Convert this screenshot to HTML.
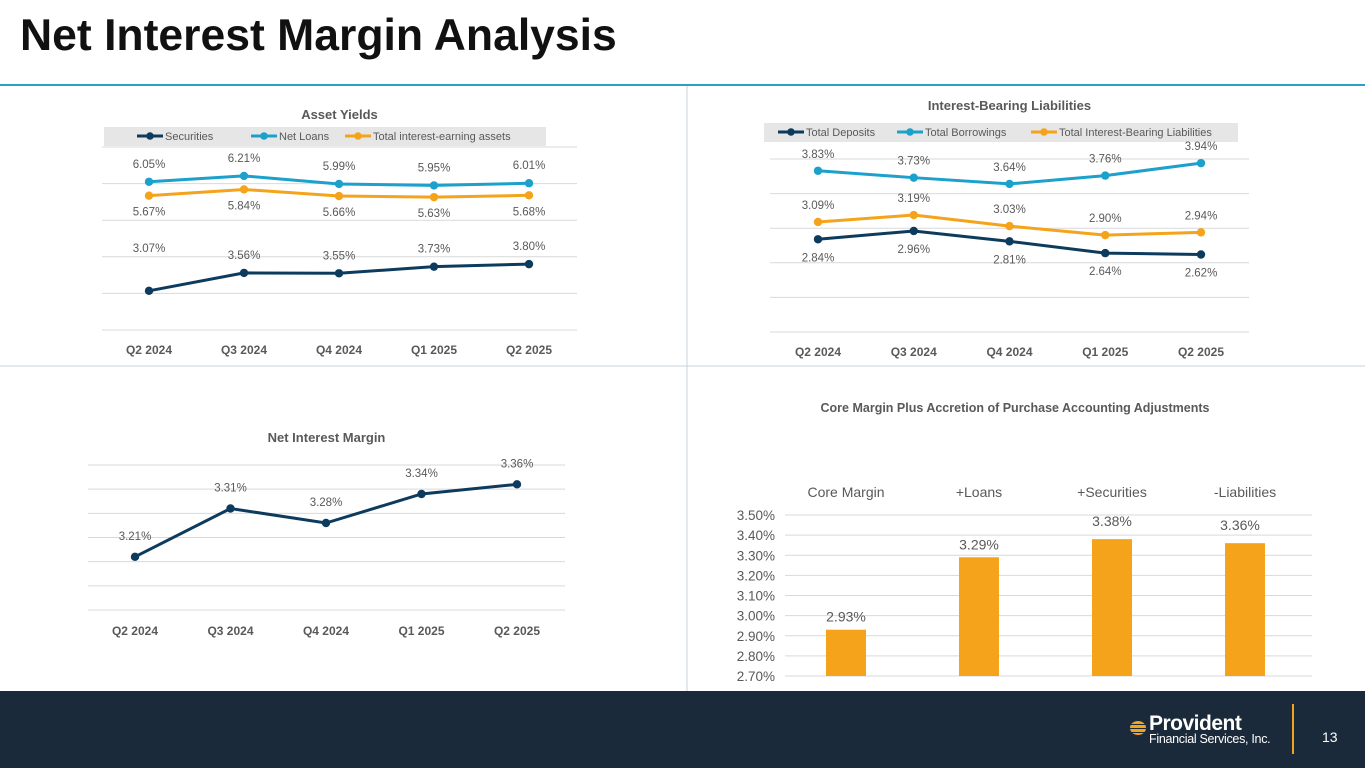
<!DOCTYPE html>
<html><head><meta charset="utf-8"><style>
body{margin:0;width:1365px;height:768px;overflow:hidden;background:#fff;font-family:"Liberation Sans",sans-serif;position:relative}
#title{position:absolute;left:20px;top:11px;font-size:44.5px;font-weight:bold;color:#111;margin:0}
#footer{position:absolute;left:0;top:691px;width:1365px;height:77px;background:#1b2a3a}
svg{position:absolute;left:0;top:0}
</style></head><body>
<h1 id="title">Net Interest Margin Analysis</h1>
<div id="footer">
 <div style="position:absolute;left:1130px;top:26px;color:#fff">
  <div style="position:absolute;left:0;top:4px;width:16px;height:14px;border-radius:50%;background:repeating-linear-gradient(#f5a31a 0 3px,#1b2a3a 3px 4px)"></div>
  <div style="position:absolute;left:19px;top:-5px;font-size:21px;font-weight:bold;letter-spacing:-0.5px">Provident</div>
  <div style="position:absolute;left:19px;top:15px;font-size:12.5px;white-space:nowrap;letter-spacing:-0.3px">Financial Services, Inc.</div>
 </div>
 <div style="position:absolute;left:1292px;top:13px;width:2px;height:50px;background:#f5a31a"></div>
 <div style="position:absolute;left:1322px;top:38px;color:#fff;font-size:14px">13</div>
</div>
<svg id="s" width="1365" height="691"></svg>
<script>
const cats=["Q2 2024","Q3 2024","Q4 2024","Q1 2025","Q2 2025"];
const secYield=[3.07,3.56,3.55,3.73,3.80];
const loanYield=[6.05,6.21,5.99,5.95,6.01];
const ieaYield=[5.67,5.84,5.66,5.63,5.68];
const depCost=[2.84,2.96,2.81,2.64,2.62];
const borCost=[3.83,3.73,3.64,3.76,3.94];
const iblCost=[3.09,3.19,3.03,2.90,2.94];
const nim=[3.21,3.31,3.28,3.34,3.36];
const barCats=["Core Margin","+Loans","+Securities","-Liabilities"];
const barVals=[2.93,3.29,3.38,3.36];
const barTicks=[2.70,2.80,2.90,3.00,3.10,3.20,3.30,3.40,3.50];
const NAVY="#0d3b5e",LB="#1ba1cb",OR="#f5a31a",GRID="#d9d9d9",TXT="#595959";
const S=document.getElementById('s'),NS="http://www.w3.org/2000/svg";
function el(t,a,txt){const e=document.createElementNS(NS,t);for(const k in a)e.setAttribute(k,a[k]);if(txt!==undefined)e.textContent=txt;S.appendChild(e);return e;}
let e;
e=el('line',{x1:0,y1:85,x2:1365,y2:85,stroke:"#2e9ec9","stroke-width":2});


e=el('line',{x1:687,y1:86,x2:687,y2:691,stroke:"#c8d3dc","stroke-width":1});


e=el('line',{x1:0,y1:366,x2:1365,y2:366,stroke:"#c8d3dc","stroke-width":1});



function lineChart(o){
 const y=v=>o.y0+(o.vmax-v)/(o.vmax-o.vmin)*(o.y1-o.y0);
 const x=i=>o.xs+i*o.dx;
 for(let v=o.vmin;v<=o.vmax+1e-9;v+=o.step){
  e=el('line',{x1:o.px0,x2:o.px1,y1:y(v),y2:y(v),stroke:GRID,"stroke-width":1});
  
  
 }
 e=el('text',{x:(o.px0+o.px1)/2,y:o.ty,"text-anchor":"middle","font-size":13,"font-weight":"bold",fill:TXT},o.title);
 
 
 cats.forEach((c,i)=>{e=el('text',{x:x(i),y:o.xly,"text-anchor":"middle","font-size":12,"font-weight":"bold",fill:TXT},c);
  
  });
 if(o.legend){
  e=el('rect',{x:o.lx0,y:o.ly-9,width:o.lx1-o.lx0,height:19,fill:"#e6e6e6"});
  
  
 }
 o.series.forEach(s=>{
  const pts=s.d.map((v,i)=>x(i)+","+y(v)).join(" ");
  e=el('polyline',{points:pts,fill:"none",stroke:s.c,"stroke-width":3});
  
  
  s.d.forEach((v,i)=>{
   e=el('circle',{cx:x(i),cy:y(v),r:4.2,fill:s.c});
   
   
   const off=(s.firstOff!==undefined&&i===0)?s.firstOff:s.off;
   e=el('text',{x:x(i),y:y(v)+off,"text-anchor":"middle","font-size":11.5,fill:TXT},v.toFixed(2)+"%");
   
   
  });
  if(o.legend){
   e=el('line',{x1:s.lx,x2:s.lx+26,y1:o.ly,y2:o.ly,stroke:s.c,"stroke-width":3});
   
   
   e=el('circle',{cx:s.lx+13,cy:o.ly,r:3.8,fill:s.c});
   
   
   e=el('text',{x:s.lx+28,y:o.ly+4,"font-size":11,fill:TXT},s.label);
   
   
  }
 });
}
lineChart({name:"asset-yields",title:"Asset Yields",ty:119,vmin:2,vmax:7,step:1,y0:147,y1:330,px0:102,px1:577,xs:149,dx:95,xly:354,legend:true,ly:136,lx0:104,lx1:546,
 series:[{d:secYield,c:NAVY,n:"securities",label:"Securities",off:-14,firstOff:-39,lx:137},
  {d:loanYield,c:LB,n:"net-loans",label:"Net Loans",off:-14,lx:251},
  {d:ieaYield,c:OR,n:"total-earning-assets",label:"Total interest-earning assets",off:20,lx:345}]});
lineChart({name:"liabilities",title:"Interest-Bearing Liabilities",ty:110,vmin:1.5,vmax:4.0,step:0.5,y0:159,y1:332,px0:770,px1:1249,xs:818,dx:95.75,xly:356,legend:true,ly:132,lx0:764,lx1:1238,
 series:[{d:depCost,c:NAVY,n:"total-deposits",label:"Total Deposits",off:22,lx:778},
  {d:borCost,c:LB,n:"total-borrowings",label:"Total Borrowings",off:-13,lx:897},
  {d:iblCost,c:OR,n:"total-ibl",label:"Total Interest-Bearing Liabilities",off:-13,lx:1031}]});
lineChart({name:"nim",title:"Net Interest Margin",ty:442,vmin:3.10,vmax:3.40,step:0.05,y0:465,y1:610,px0:88,px1:565,xs:135,dx:95.5,xly:635,legend:false,
 series:[{d:nim,c:NAVY,n:"net-interest-margin",off:-17}]});

// bar chart
const bmin=2.70,bmax=3.50,by0=515,by1=676;
const by=v=>by0+(bmax-v)/(bmax-bmin)*(by1-by0);
const bx=i=>846+i*133;
e=el('text',{x:1015,y:412,"text-anchor":"middle","font-size":12.5,"font-weight":"bold",fill:TXT},"Core Margin Plus Accretion of Purchase Accounting Adjustments");


barTicks.forEach(t=>{
 e=el('line',{x1:785,x2:1312,y1:by(t),y2:by(t),stroke:GRID,"stroke-width":1});
 
 
 e=el('text',{x:775,y:by(t)+5,"text-anchor":"end","font-size":13.5,fill:TXT},t.toFixed(2)+"%");
 
 
});
barCats.forEach((c,i)=>{
 e=el('text',{x:bx(i),y:497,"text-anchor":"middle","font-size":14,fill:TXT},c);
 
 
 const v=barVals[i];
 e=el('rect',{x:bx(i)-20,y:by(v),width:40,height:by1-by(v),fill:OR});
 
 
 e=el('text',{x:bx(i)+(i>1?-5*(i-1)+5:0),y:by(v)-(i>1?13:8),"text-anchor":"middle","font-size":14,fill:TXT},v.toFixed(2)+"%");
 
 
});
</script>
</body></html>
